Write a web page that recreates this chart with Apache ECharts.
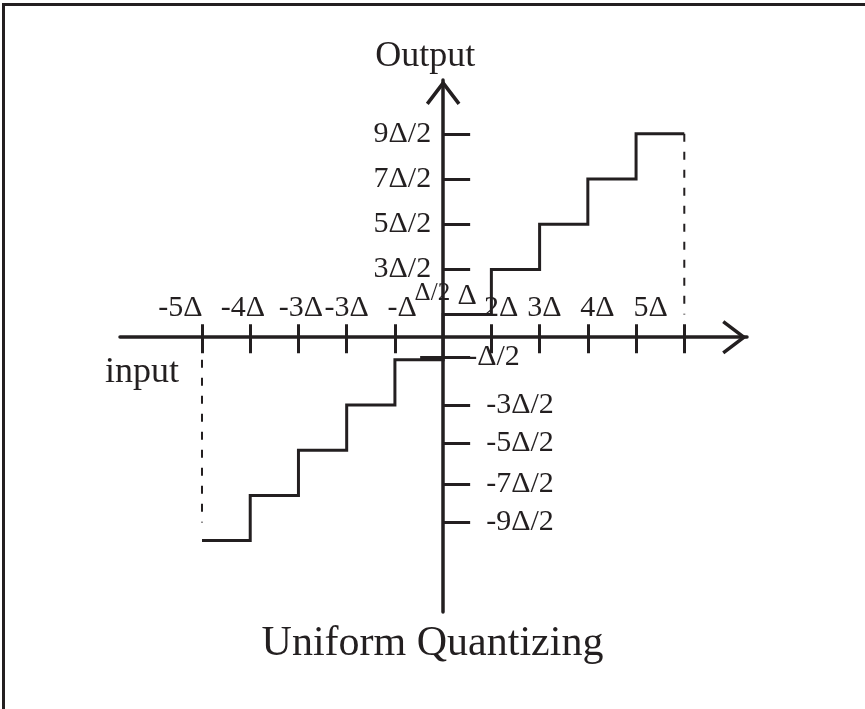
<!DOCTYPE html>
<html>
<head>
<meta charset="utf-8">
<script src="https://cdn.jsdelivr.net/npm/echarts@6/dist/echarts.min.js"></script>
<style>
  html, body { margin: 0; padding: 0; background: #fff; overflow: hidden; }
  #frame { position: absolute; left: 2px; top: 3px; width: 900px; height: 800px;
           border-top: 3px solid #231f20; border-left: 3px solid #231f20; }
  #chart { position: absolute; left: 0; top: 0; width: 865px; height: 709px; }
</style>
</head>
<body>
<div id="frame"></div>
<div id="chart"></div>
<script>
// Uniform quantizer transfer characteristic; input and output in units of Δ
const inputEdges = [-5, -4, -3, -2, -1, 0, 1, 2, 3, 4, 5];
const outputLevels = [-4.5, -3.5, -2.5, -1.5, -0.5, 0.5, 1.5, 2.5, 3.5, 4.5];

// dashed drop lines at both ends of the input range
const leftDrop = [[-5, -0.5], [-5, -4.1]];
const rightDrop = [[5, 4.5], [5, 0.5]];

// input axis: tick values, label texts and where each label sits
const inputTicks = [-5, -4, -3, -2, -1, 1, 2, 3, 4, 5];
const inputLabels = ['-5Δ', '-4Δ', '-3Δ', '-3Δ', '-Δ', 'Δ', '2Δ', '3Δ', '4Δ', '5Δ'];
const inputLabelAt = [-5.45, -4.15, -2.95, -2.0, -0.85, 0.5, 1.2, 2.1, 3.2, 4.3];

// output axis: tick values, upper (left side) and lower (right side) labels
const outputTicks = [4.5, 3.5, 2.5, 1.5, -0.45, -1.5, -2.35, -3.25, -4.1];
const upperLabels = ['9Δ/2', '7Δ/2', '5Δ/2', '3Δ/2'];
const upperLabelAt = [4.5, 3.5, 2.5, 1.5];
const halfLabel = 'Δ/2';
const halfLabelAt = 0.97;
const lowerLabels = ['-Δ/2', '-3Δ/2', '-5Δ/2', '-7Δ/2', '-9Δ/2'];
const lowerLabelAt = [-0.45, -1.5, -2.35, -3.25, -4.1];

const INK = '#231f20';
const FONT = 'Liberation Serif';

// plotting window (input range, output range) and its box on the page
const X_MIN = -6.7, X_MAX = 6.3, Y_MIN = -6.08, Y_MAX = 5.69;
const BOX = { left: 120, right: 118, top: 80, bottom: 97 };
const W = 865, H = 709;
const boxW = W - BOX.left - BOX.right, boxH = H - BOX.top - BOX.bottom;
// page position of the two zero lines, so the axes can sit on them
const zeroX = BOX.left + boxW * (0 - X_MIN) / (X_MAX - X_MIN);
const zeroY = BOX.top + boxH * (Y_MAX - 0) / (Y_MAX - Y_MIN);

// staircase points: each edge starts the level of the step to its right
const stairs = inputEdges.map((x, i) => [x, outputLevels[Math.min(i, outputLevels.length - 1)]]);

function lookup(values, texts) {
  return function (v) {
    const i = values.findIndex(a => Math.abs(a - v) < 1e-6);
    return i < 0 ? '' : texts[i];
  };
}

// open chevron arrow head, pointing up in its own frame
const ARROW = 'path://M17,0 L34,22.5 L31.2,24.6 L17,5.8 L2.8,24.6 L0,22.5 Z';

const txt = (extra) => Object.assign({ fontFamily: FONT, fontSize: 30, color: INK }, extra || {});

const xLabelText = lookup(inputLabelAt, inputLabels);
const upperText = lookup(upperLabelAt, upperLabels);
const lowerText = lookup(lowerLabelAt, lowerLabels);

const hidden = { show: false };
const hiddenAxis = (extra) => Object.assign({
  type: 'value', axisLine: { show: false, onZero: false }, axisTick: hidden, axisLabel: hidden, splitLine: hidden
}, extra);

const chart = echarts.init(document.getElementById('chart'), null, { renderer: 'canvas' });

chart.setOption({
  animation: false,
  backgroundColor: 'transparent',
  title: [{
    text: 'Uniform Quantizing',
    left: 'center', top: 623, padding: 0,
    textStyle: { fontFamily: FONT, fontSize: 42, fontWeight: 'normal', color: INK }
  }, {
    text: 'input',
    left: 105, top: 355, padding: 0,
    textStyle: { fontFamily: FONT, fontSize: 36, fontWeight: 'normal', color: INK }
  }],
  grid: [
    // full plane for the staircase
    { left: BOX.left, right: BOX.right, top: BOX.top, bottom: BOX.bottom, containLabel: false, outerBoundsMode: 'none' },
    // upper half-plane: its bottom edge is the input axis
    { left: BOX.left, right: BOX.right, top: BOX.top, height: zeroY - BOX.top, containLabel: false, outerBoundsMode: 'none' },
    // right half-plane: its left edge is the output axis
    { left: zeroX, right: BOX.right, top: BOX.top, bottom: BOX.bottom, containLabel: false, outerBoundsMode: 'none' }
  ],
  xAxis: [
    hiddenAxis({ gridIndex: 0, min: X_MIN, max: X_MAX }),
    {
      type: 'value', gridIndex: 1, min: X_MIN, max: X_MAX, position: 'bottom',
      axisLine: { onZero: false, symbol: ['none', ARROW], symbolSize: [34, 25], symbolOffset: [0, -12.5],
                  lineStyle: { color: INK, width: 3.5 } },
      axisTick: { show: true, customValues: inputTicks, inside: false, length: 16, lineStyle: { color: INK, width: 3 } },
      axisLabel: {
        show: true, customValues: inputLabelAt, inside: true, margin: 14, hideOverlap: false,
        formatter: v => { const t = xLabelText(v); return t === 'Δ' ? '{hi|' + t + '}' : '{n|' + t + '}'; },
        rich: { n: txt(), hi: txt({ padding: [0, 0, 12, 0] }) }
      },
      splitLine: hidden
    },
    {
      type: 'value', gridIndex: 1, min: X_MIN, max: X_MAX, position: 'bottom',
      axisLine: { show: false, onZero: false },
      axisTick: { show: true, customValues: inputTicks, inside: true, length: 13, lineStyle: { color: INK, width: 3 } },
      axisLabel: hidden, splitLine: hidden
    },
    hiddenAxis({ gridIndex: 2, min: 0, max: X_MAX })
  ],
  yAxis: [
    hiddenAxis({ gridIndex: 0, min: Y_MIN, max: Y_MAX }),
    hiddenAxis({ gridIndex: 1, min: 0, max: Y_MAX }),
    {
      type: 'value', gridIndex: 2, min: Y_MIN, max: Y_MAX, position: 'left',
      name: 'Output', nameLocation: 'end', nameGap: 5,
      nameTextStyle: { fontFamily: FONT, fontSize: 36, color: INK, padding: [0, 36, 0, 0] },
      axisLine: { onZero: false, symbol: ['none', ARROW], symbolSize: [36, 25], symbolOffset: [0, -12.5],
                  lineStyle: { color: INK, width: 3.5 } },
      axisTick: { show: true, customValues: outputTicks, inside: true, length: 27, lineStyle: { color: INK, width: 3 } },
      axisLabel: {
        show: true, customValues: upperLabelAt, inside: false, margin: 12, hideOverlap: false,
        formatter: v => upperText(v), ...txt()
      },
      splitLine: hidden
    },
    {
      type: 'value', gridIndex: 2, min: Y_MIN, max: Y_MAX, position: 'left',
      axisLine: { show: false, onZero: false },
      axisTick: { show: true, customValues: [lowerLabelAt[0]], inside: false, length: 23, lineStyle: { color: INK, width: 3 } },
      axisLabel: {
        show: true, customValues: lowerLabelAt, inside: true, margin: 24, hideOverlap: false,
        formatter: v => { const t = lowerText(v); return t === '-Δ/2' ? '{near|' + t + '}' : '{n|' + t + '}'; },
        rich: { n: txt({ padding: [0, 0, 0, 19] }), near: txt() }
      },
      splitLine: hidden
    },
    {
      // the Δ/2 level label, which straddles the output axis
      type: 'value', gridIndex: 2, min: Y_MIN, max: Y_MAX, position: 'left',
      axisLine: { show: false, onZero: false }, axisTick: hidden,
      axisLabel: {
        show: true, customValues: [halfLabelAt], inside: false, margin: -7, hideOverlap: false,
        formatter: () => halfLabel, ...txt({ fontSize: 25 })
      },
      splitLine: hidden
    }
  ],
  series: [{
    name: 'quantizer', type: 'line', step: 'end', data: stairs,
    xAxisIndex: 0, yAxisIndex: 0,
    symbol: 'none', silent: true, z: 5,
    lineStyle: { color: INK, width: 3, cap: 'butt', join: 'miter' }
  }, {
    name: 'overload-left', type: 'line', data: leftDrop, xAxisIndex: 0, yAxisIndex: 0,
    symbol: 'none', silent: true,
    lineStyle: { color: INK, width: 2, type: [8, 10] }
  }, {
    name: 'overload-right', type: 'line', data: rightDrop, xAxisIndex: 0, yAxisIndex: 0,
    symbol: 'none', silent: true,
    lineStyle: { color: INK, width: 2, type: [8, 10] }
  }]
});
</script>
</body>
</html>
